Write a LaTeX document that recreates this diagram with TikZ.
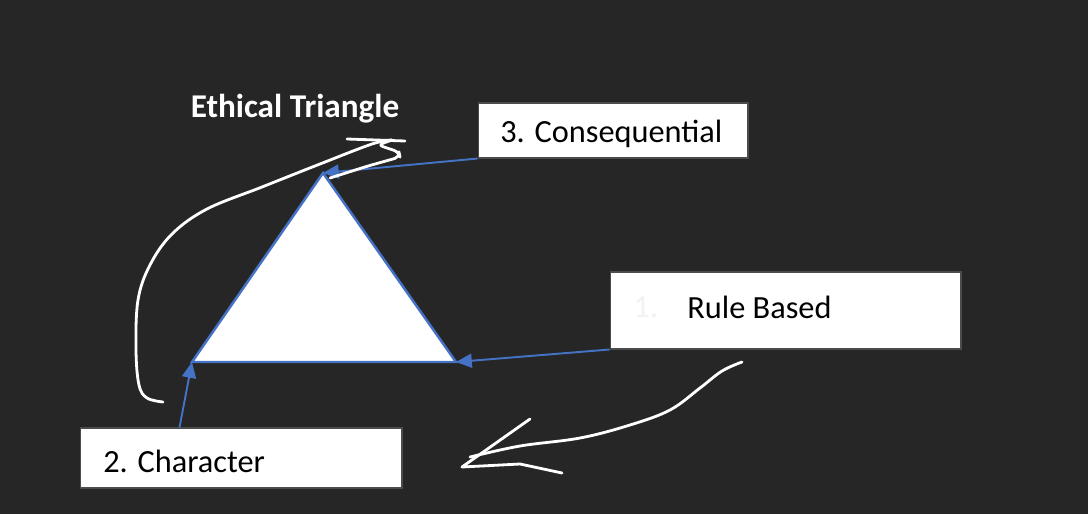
\documentclass[tikz,border=0pt]{standalone}
\usepackage{fontspec}
\setmainfont{Carlito}
\usetikzlibrary{arrows.meta}

\definecolor{slidebg}{HTML}{262626}
\definecolor{edgeblue}{HTML}{4472C4}
\definecolor{faint}{HTML}{F2F2F2}

\begin{document}
\begin{tikzpicture}[x=0.02cm, y=-0.02cm,
    box/.style={draw=black!70, fill=white, line width=0.6pt, inner sep=0pt},
    lbl/.style={anchor=west, inner sep=0pt, font=\fontsize{18.4}{21}\selectfont},
    pointer/.style={draw=edgeblue, line width=1.1pt, -{Triangle[length=9pt, width=8pt]}},
    ink/.style={draw=white, line width=1.6pt, line cap=round, line join=round}
  ]

  % Slide background
  \fill[slidebg] (0,0) rectangle (1088,514);

  % Title
  \node[inner sep=0pt, text=white, font=\bfseries\fontsize{18.9}{22}\selectfont] (title) at (295,109) {Ethical Triangle};

  % Triangle corners
  \coordinate (top) at (323,173);
  \coordinate (left) at (192,362);
  \coordinate (right) at (456,362);
  \draw[fill=white, draw=edgeblue, line width=1.4pt] (top) -- (right) -- (left) -- cycle;

  % Boxes
  \node[box, minimum width=5.4cm, minimum height=1.1cm] (cons) at (613,130.5) {};
  \node[lbl] (consT) at (500,134) {3. Consequential};

  \node[box, minimum width=7.02cm, minimum height=1.54cm] (rule) at (785.5,310.5) {};
  \node[lbl, text=faint] (ruleN) at (633,307) {1.};
  \node[lbl] (ruleT) at (687,307) {Rule Based};

  \node[box, minimum width=6.44cm, minimum height=1.2cm] (char) at (241,458) {};
  \node[lbl] (charT) at (103,461) {2. Character};

  % Pointers to the corners
  \draw[pointer] (cons.south west) -- (top);
  \draw[pointer] (rule.south west) -- (right);
  \draw[pointer] ([xshift=2cm]char.north west) -- (left);

  % Pen strokes
  \draw[ink] plot[smooth, tension=0.6] coordinates {(163,402) (147,398) (139,385) (136,350) (138,300) (150,265) (172,234) (207,209) (262,187) (320,164) (372,144) (392,140)};
  \draw[ink] (347,139) -- (405,141);
  \draw[ink, rounded corners=3pt] (392,140) -- (378,145) -- (399,152) -- (400,157) -- (368,166) -- (330,178);

  \draw[ink] plot[smooth, tension=0.6] coordinates {(742,362) (722,371) (700,388) (670,410) (630,425) (580,438) (520,446) (470,457)};
  \draw[ink] (530,419) -- (462,467) -- (520,464) -- (562,473);

\end{tikzpicture}
\end{document}
